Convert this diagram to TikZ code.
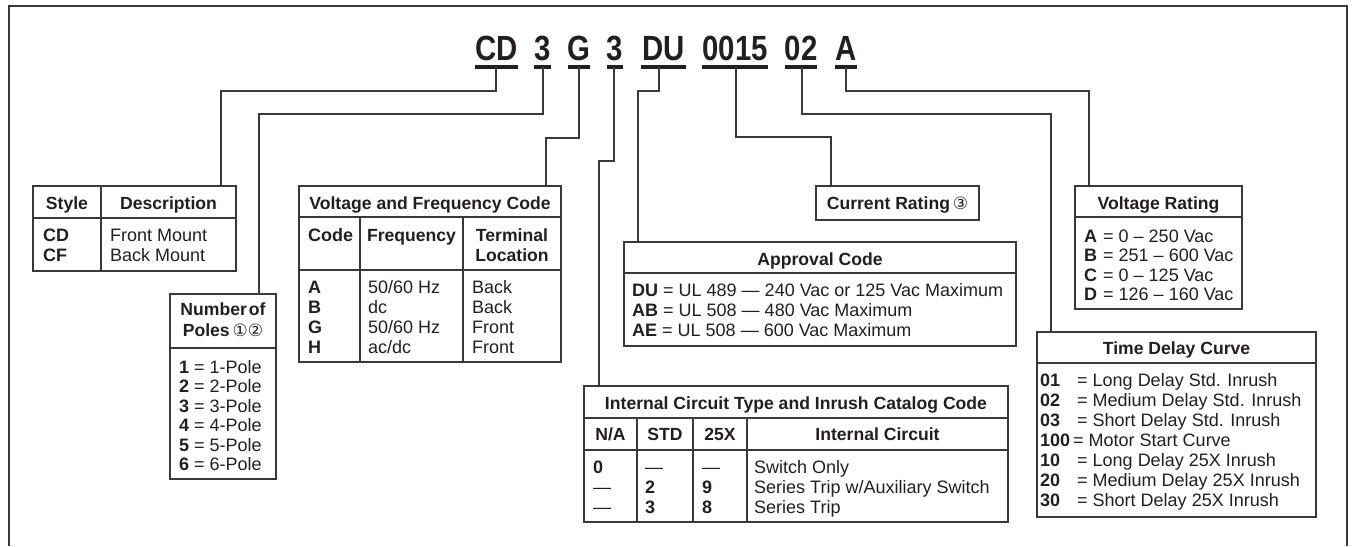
\documentclass[tikz,border=0pt]{standalone}
\usepackage{fontspec}
\usepackage{graphicx}
\setmainfont{Liberation Sans}
\newfontfamily\circf{DejaVu Sans}
\definecolor{txt}{HTML}{231F20}
\definecolor{linec}{HTML}{3A3A3A}
\newcommand\RgF{\fontsize{18}{21}\selectfont}
\newcommand\BdF{\fontsize{17.6}{21}\selectfont\bfseries}
\newcommand\CodeF{\fontsize{35}{40}\selectfont\bfseries}
\newcommand\Circ[1]{{\circf\mdseries\fontsize{17}{17}\selectfont #1}}
\newcommand\Cd[1]{\scalebox{0.84}[1]{#1}}
\begin{document}
\begin{tikzpicture}[x=1pt,y=-1pt,
  tbl/.style={draw=linec, line width=1.4pt, inner sep=0pt, outer sep=0pt, anchor=north west},
  rule/.style={draw=linec, line width=1.4pt},
  conn/.style={draw=linec, line width=1.4pt},
  ul/.style={draw=txt, line width=3.2pt},
  code/.style={font=\CodeF, text=txt, inner sep=0pt, anchor=base},
  hc/.style={font=\BdF, text=txt, inner sep=0pt, anchor=base},
  lt/.style={font=\RgF, text=txt, inner sep=0pt, anchor=base west},
  lb/.style={font=\RgF\bfseries, text=txt, inner sep=0pt, anchor=base west}]
\useasboundingbox (0,0) rectangle (1356,546);
% frame
\draw[draw=linec, line width=2pt] (9,546) -- (9,6) -- (1347,6) -- (1347,546);
% catalog code
\node[code] (k1) at (496.5,60) {\Cd{CD}};
\node[code] (k2) at (542.5,60) {\Cd{3}};
\node[code] (k3) at (579,60) {\Cd{G}};
\node[code] (k4) at (615,60) {\Cd{3}};
\node[code] (k5) at (663.5,60) {\Cd{DU}};
\node[code] (k6) at (735,60) {\Cd{0015}};
\node[code] (k7) at (801,60) {\Cd{02}};
\node[code] (k8) at (846,60) {\Cd{A}};
\draw[ul] (474.5,67) -- (518,67);
\draw[ul] (534,67) -- (551,67);
\draw[ul] (568,67) -- (590,67);
\draw[ul] (607,67) -- (623,67);
\draw[ul] (641,67) -- (686,67);
\draw[ul] (702,67) -- (768,67);
\draw[ul] (785,67) -- (817,67);
\draw[ul] (835,67) -- (857,67);
\coordinate (u1) at (496,67);
\coordinate (u2) at (543,67);
\coordinate (u3) at (579,67);
\coordinate (u4) at (614,67);
\coordinate (u5) at (659,67);
\coordinate (u6) at (736,67);
\coordinate (u7) at (802,67);
\coordinate (u8) at (846,67);

% Style table
\node[tbl, minimum width=203pt, minimum height=85pt] (sty) at (33,186) {};
\draw[rule] (33,218) -- (236,218);
\draw[rule] (101,186) -- (101,271);
\node[hc] (styH1) at (67,209) {Style};
\node[hc] (styH2) at (168.5,209) {Description};
\node[lb] (styC1) at (43,241) {CD};
\node[lb] (styC2) at (43,261) {CF};
\node[lt] (styD1) at (110,241) {Front Mount};
\node[lt] (styD2) at (110,261) {Back Mount};

% Poles table
\node[tbl, minimum width=106pt, minimum height=185pt] (pol) at (170,294) {};
\draw[rule] (170,348) -- (276,348);
\node[hc] (polH1) at (223,315) {Number\hspace{2pt}of};
\node[hc] (polH2) at (223,336) {Poles\,\Circ{①②}};
\node[lt] (polR1) at (179,373) {\textbf{1} = 1-Pole};
\node[lt] (polR2) at (179,392.5) {\textbf{2} = 2-Pole};
\node[lt] (polR3) at (179,412) {\textbf{3} = 3-Pole};
\node[lt] (polR4) at (179,431.5) {\textbf{4} = 4-Pole};
\node[lt] (polR5) at (179,451) {\textbf{5} = 5-Pole};
\node[lt] (polR6) at (179,470.5) {\textbf{6} = 6-Pole};

% Voltage and Frequency table
\node[tbl, minimum width=262pt, minimum height=176pt] (vf) at (299,186) {};
\draw[rule] (299,217) -- (561,217);
\draw[rule] (299,270) -- (561,270);
\draw[rule] (360,217) -- (360,362);
\draw[rule] (463,217) -- (463,362);
\node[hc] (vfT) at (430,209) {Voltage and Frequency Code};
\node[lb] (vfH1) at (308,241) {Code};
\node[hc] (vfH2) at (411.5,241) {Frequency};
\node[hc] (vfH3) at (512,241) {Terminal};
\node[hc] (vfH4) at (512,261) {Location};
\node[lb] (vfA) at (308,293) {A};
\node[lb] (vfB) at (308,313) {B};
\node[lb] (vfG) at (308,333) {G};
\node[lb] (vfH) at (308,353) {H};
\node[lt] (vfF1) at (368,293) {50/60 Hz};
\node[lt] (vfF2) at (368,313) {dc};
\node[lt] (vfF3) at (368,333) {50/60 Hz};
\node[lt] (vfF4) at (368,353) {ac/dc};
\node[lt] (vfL1) at (472,293) {Back};
\node[lt] (vfL2) at (472,313) {Back};
\node[lt] (vfL3) at (472,333) {Front};
\node[lt] (vfL4) at (472,353) {Front};

% Approval Code table
\node[tbl, minimum width=392pt, minimum height=104pt] (apr) at (624,242) {};
\draw[rule] (624,273) -- (1016,273);
\node[hc] (aprT) at (820,265) {Approval Code};
\node[lt] (aprR1) at (632,296) {\textbf{DU} = UL 489 — 240 Vac or 125 Vac Maximum};
\node[lt] (aprR2) at (632,316) {\textbf{AB} = UL 508 — 480 Vac Maximum};
\node[lt] (aprR3) at (632,336) {\textbf{AE} = UL 508 — 600 Vac Maximum};

% Current Rating box
\node[tbl, minimum width=163pt, minimum height=34pt] (cr) at (816,186) {};
\node[hc] (crT) at (897.5,209) {Current Rating\,\Circ{③}};

% Voltage Rating table
\node[tbl, minimum width=167pt, minimum height=123pt] (vr) at (1075,186) {};
\draw[rule] (1075,217) -- (1242,217);
\node[hc] (vrT) at (1158.5,209) {Voltage Rating};
\node[lb] (vrL1) at (1084,242) {A};
\node[lb] (vrL2) at (1084,261.5) {B};
\node[lb] (vrL3) at (1084,281) {C};
\node[lb] (vrL4) at (1084,300.5) {D};
\node[lt] (vrV1) at (1103,242) {= 0 – 250 Vac};
\node[lt] (vrV2) at (1103,261.5) {= 251 – 600 Vac};
\node[lt] (vrV3) at (1103,281) {= 0 – 125 Vac};
\node[lt] (vrV4) at (1103,300.5) {= 126 – 160 Vac};

% Time Delay Curve table
\node[tbl, minimum width=279pt, minimum height=185pt] (td) at (1037,332) {};
\draw[rule] (1037,363) -- (1316,363);
\node[hc] (tdT) at (1176.5,354) {Time Delay Curve};
\node[lb] (tdL1) at (1040,386) {01};
\node[lb] (tdL2) at (1040,406) {02};
\node[lb] (tdL3) at (1040,426) {03};
\node[lb] (tdL4) at (1040,446) {100};
\node[lb] (tdL5) at (1040,466) {10};
\node[lb] (tdL6) at (1040,486) {20};
\node[lb] (tdL7) at (1040,506) {30};
\node[lt] (tdV1) at (1077,386) {= Long Delay Std. Inrush};
\node[lt] (tdV2) at (1077,406) {= Medium Delay Std. Inrush};
\node[lt] (tdV3) at (1077,426) {= Short Delay Std. Inrush};
\node[lt] (tdV4) at (1073,446) {= Motor Start Curve};
\node[lt] (tdV5) at (1077,466) {= Long Delay 25X Inrush};
\node[lt] (tdV6) at (1077,486) {= Medium Delay 25X Inrush};
\node[lt] (tdV7) at (1077,506) {= Short Delay 25X Inrush};

% Internal Circuit table
\node[tbl, minimum width=424pt, minimum height=136pt] (ic) at (584,386) {};
\draw[rule] (584,418) -- (1008,418);
\draw[rule] (584,450) -- (1008,450);
\draw[rule] (637,418) -- (637,522);
\draw[rule] (693,418) -- (693,522);
\draw[rule] (747,418) -- (747,522);
\node[hc] (icT) at (796,409) {Internal Circuit Type and Inrush Catalog Code};
\node[hc] (icH1) at (610.5,440) {N/A};
\node[hc] (icH2) at (665,440) {STD};
\node[hc] (icH3) at (720,440) {25X};
\node[hc] (icH4) at (877.5,440) {Internal Circuit};
\node[lb] (icA1) at (593,473) {0};
\node[lt] (icA2) at (593,493) {—};
\node[lt] (icA3) at (593,513) {—};
\node[lt] (icB1) at (645,473) {—};
\node[lb] (icB2) at (645,493) {2};
\node[lb] (icB3) at (645,513) {3};
\node[lt] (icC1) at (702,473) {—};
\node[lb] (icC2) at (702,493) {9};
\node[lb] (icC3) at (702,513) {8};
\node[lt] (icD1) at (754,473) {Switch Only};
\node[lt] (icD2) at (754,493) {Series Trip w/Auxiliary Switch};
\node[lt] (icD3) at (754,513) {Series Trip};

% landing points
\coordinate (styIn) at (221,186);
\coordinate (polIn) at (259,294);
\coordinate (vfIn) at (546,186);
\coordinate (icIn) at (599,386);
\coordinate (aprIn) at (638,242);
\coordinate (crIn) at (831,186);
\coordinate (tdIn) at (1051,332);
\coordinate (vrIn) at (1089,186);

% connectors
\draw[conn] (u1) -- ++(0,24) -| (styIn);
\draw[conn] (u2) -- ++(0,47) -| (polIn);
\draw[conn] (u3) -- ++(0,71) -| (vfIn);
\draw[conn] (u4) -- ++(0,94) -| (icIn);
\draw[conn] (u5) -- ++(0,24) -| (aprIn);
\draw[conn] (u6) -- ++(0,70) -| (crIn);
\draw[conn] (u7) -- ++(0,47) -| (tdIn);
\draw[conn] (u8) -- ++(0,24) -| (vrIn);
\end{tikzpicture}
\end{document}
